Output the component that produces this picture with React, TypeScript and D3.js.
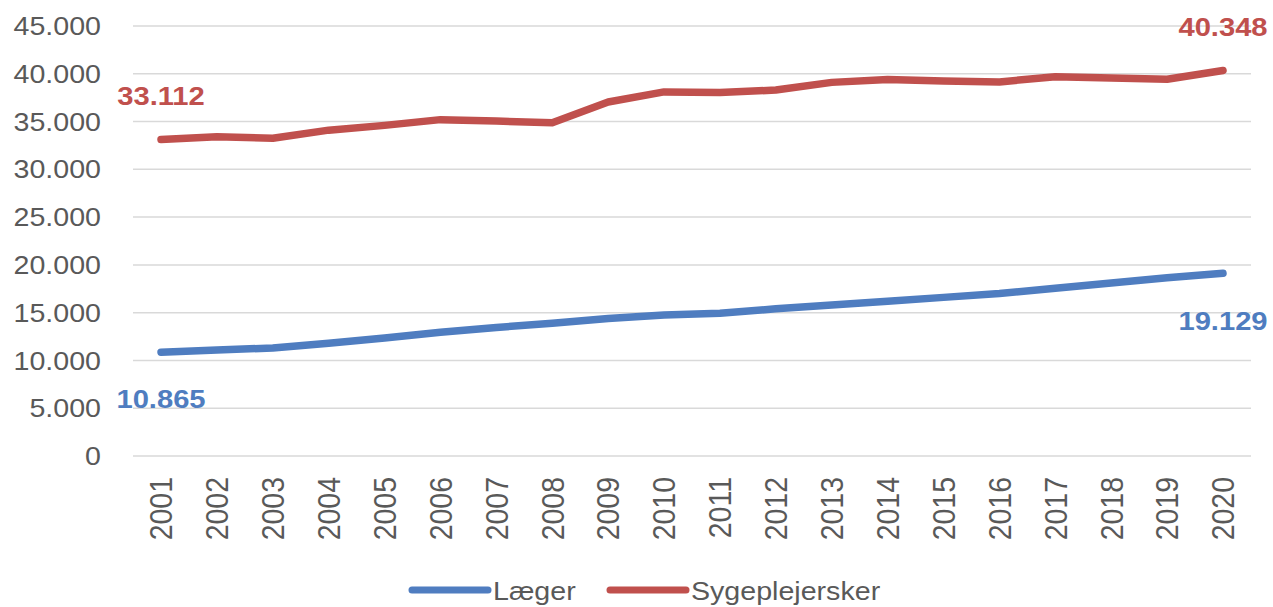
import React from "react";
import * as d3 from "d3";

const years = [2001, 2002, 2003, 2004, 2005, 2006, 2007, 2008, 2009, 2010, 2011, 2012, 2013, 2014, 2015, 2016, 2017, 2018, 2019, 2020];
const laeger = [10865, 11100, 11300, 11800, 12350, 12950, 13450, 13900, 14400, 14750, 14950, 15400, 15800, 16200, 16600, 17000, 17550, 18100, 18650, 19129];
const sygeplejersker = [33112, 33400, 33250, 34100, 34600, 35200, 35050, 34880, 37050, 38100, 38030, 38300, 39100, 39400, 39250, 39150, 39700, 39570, 39430, 40348];
const yTicks = [0, 5000, 10000, 15000, 20000, 25000, 30000, 35000, 40000, 45000];
const seriesNames = ["Læger", "Sygeplejersker"];

const W = 1273;
const H = 607;
const BLUE = "#4f7dc0";
const RED = "#c0504d";
const GREY = "#595959";
const FONT = "'Liberation Sans', Arial, sans-serif";
const SX = 1.1;

const fmt = (v: number) => d3.format(",")(v).replace(/,/g, ".");

export default function App() {
  const x = d3.scalePoint<number>().domain(years).range([161, 1223]);
  const y = d3.scaleLinear().domain([0, 45000]).range([456, 26]);
  const line = d3
    .line<number>()
    .x((_, i) => x(years[i]) as number)
    .y((d) => y(d));

  const first = 0;
  const last = years.length - 1;

  return (
    <svg width={W} height={H} style={{ position: "absolute", left: 0, top: 0, background: "#fff" }}>
      {yTicks.map((t) => (
        <g key={t}>
          <line x1={133} x2={1251} y1={y(t)} y2={y(t)} stroke="#d9d9d9" strokeWidth={1.5} />
          <text
            transform={`translate(101,${y(t)}) scale(${SX},1)`}
            textAnchor="end"
            dy="0.35em"
            fontFamily={FONT}
            fontSize={26}
            fill={GREY}
          >
            {fmt(t)}
          </text>
        </g>
      ))}
      {years.map((yr) => (
        <text
          key={yr}
          transform={`translate(${x(yr)},477) scale(${SX},1) rotate(-90)`}
          textAnchor="end"
          dy="0.36em"
          fontFamily={FONT}
          fontSize={28.5}
          fill={GREY}
        >
          {yr}
        </text>
      ))}
      <path d={line(laeger) || ""} fill="none" stroke={BLUE} strokeWidth={7.5} strokeLinecap="round" strokeLinejoin="round" />
      <path d={line(sygeplejersker) || ""} fill="none" stroke={RED} strokeWidth={7.5} strokeLinecap="round" strokeLinejoin="round" />

      <text transform={`translate(${x(years[first])},${y(sygeplejersker[first]) - 35}) scale(${SX},1)`} textAnchor="middle" fontFamily={FONT} fontWeight="bold" fontSize={26.5} fill={RED}>
        {fmt(sygeplejersker[first])}
      </text>
      <text transform={`translate(${x(years[last])},${y(sygeplejersker[last]) - 34}) scale(${SX},1)`} textAnchor="middle" fontFamily={FONT} fontWeight="bold" fontSize={26.5} fill={RED}>
        {fmt(sygeplejersker[last])}
      </text>
      <text transform={`translate(${x(years[first])},${y(laeger[first]) + 56}) scale(${SX},1)`} textAnchor="middle" fontFamily={FONT} fontWeight="bold" fontSize={26.5} fill={BLUE}>
        {fmt(laeger[first])}
      </text>
      <text transform={`translate(${x(years[last])},${y(laeger[last]) + 57}) scale(${SX},1)`} textAnchor="middle" fontFamily={FONT} fontWeight="bold" fontSize={26.5} fill={BLUE}>
        {fmt(laeger[last])}
      </text>

      {seriesNames.map((name, i) => {
        const x0 = i === 0 ? 412 : 610;
        const col = i === 0 ? BLUE : RED;
        return (
          <g key={name}>
            <line x1={x0} x2={x0 + 76} y1={590} y2={590} stroke={col} strokeWidth={7} strokeLinecap="round" />
            <text transform={`translate(${x0 + 81},600) scale(${SX},1)`} fontFamily={FONT} fontSize={26} fill={GREY}>
              {name}
            </text>
          </g>
        );
      })}
    </svg>
  );
}
